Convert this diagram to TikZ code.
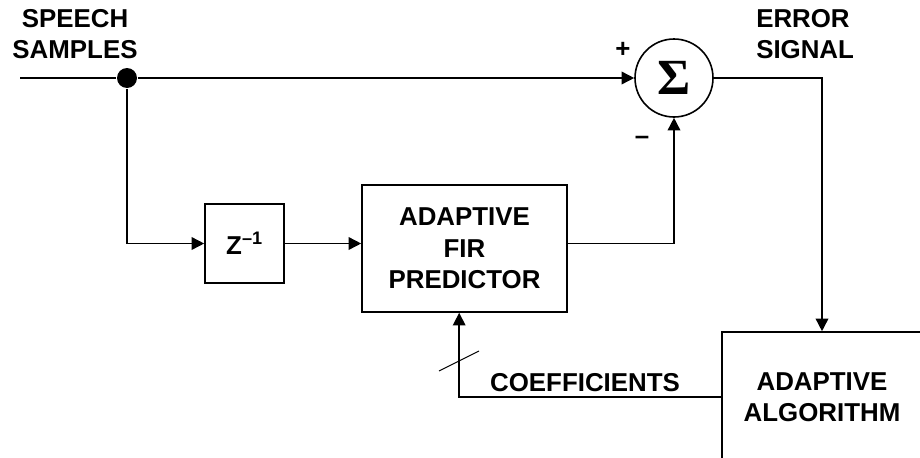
\documentclass[tikz,border=0pt]{standalone}
\usepackage{fontspec}
\setmainfont{Liberation Sans}
\newfontfamily\sigmafont{Liberation Serif}
\usetikzlibrary{arrows.meta}

\begin{document}
\begin{tikzpicture}[x=0.75pt,y=-0.75pt,line width=1.2pt,
    font=\fontsize{19.4}{23.6}\selectfont\bfseries,
    arr/.style={-{Triangle[length=9.5pt,width=9.5pt]}},
    block/.style={draw,rectangle,align=center,inner sep=0pt},
    sumnode/.style={draw,circle,minimum size=58.5pt,inner sep=0pt},
    dot/.style={circle,fill,minimum size=15pt,inner sep=0pt}
]
\useasboundingbox (0,0) rectangle (920,457);
% nodes
\coordinate (in) at (20,78);
\node[dot] (split) at (127,78) {};
\node[sumnode] (sum) at (674,78) {\fontsize{38}{38}\selectfont\sigmafont\bfseries Σ};
\node[block,minimum width=59.25pt,minimum height=59.25pt] (delay) at (244.5,243.5) {Z\textsuperscript{–1}};
\node[block,minimum width=153.75pt,minimum height=95.25pt] (fir) at (464.5,248.5) {ADAPTIVE\\FIR\\PREDICTOR};
\begin{scope}
  \clip (0,0) rectangle (920,457);
  \node[block,minimum width=150pt,minimum height=97.5pt] (algo) at (822,397) {ADAPTIVE\\ALGORITHM};
\end{scope}
% labels
\node[align=center] (speech) at (75,34) {SPEECH\\SAMPLES};
\node[align=left,anchor=west] (error) at (751,34) {ERROR\\SIGNAL};
\node (plus) at (623,50) {+};
\node (minus) at (642,140) {–};
\node (coef) at (585,383) {COEFFICIENTS};
% connectors
\draw (in) -- (split);
\draw[arr] (split) -- (sum);
\draw[arr] (split) |- (delay);
\draw[arr] (delay) -- (delay -| fir.west);
\draw[arr] (fir.east |- delay) -| (sum.south);
\draw[arr] (sum.east) -| (algo.north);
\draw[arr] (algo.west) -| ([xshift=-4pt]fir.south);
\draw[line width=0.8pt] (439,371) -- (479,351);
\end{tikzpicture}
\end{document}
